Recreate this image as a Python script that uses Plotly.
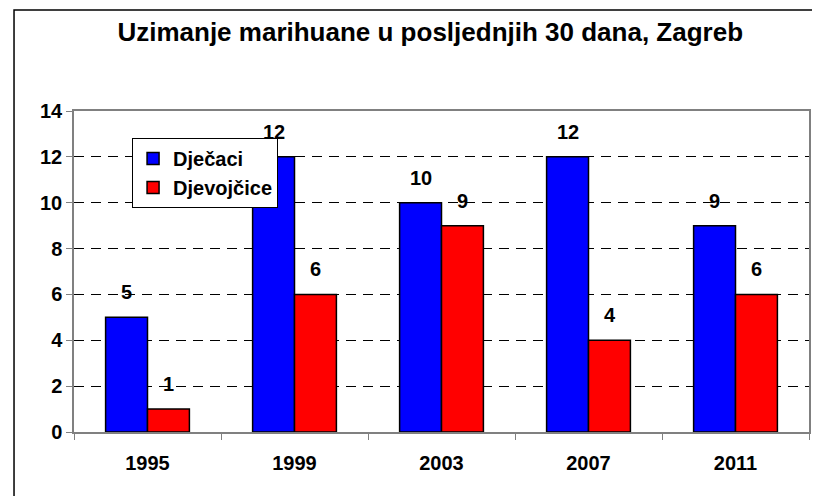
import plotly.graph_objects as go

years = ["1995", "1999", "2003", "2007", "2011"]
djecaci = [5, 12, 10, 12, 9]
djevojcice = [1, 6, 9, 4, 6]

FONT = "Liberation Sans, Arial, sans-serif"

fig = go.Figure()
fig.add_trace(go.Bar(
    x=years, y=djecaci, name="<b>Dječaci</b>", legendgroup="a",
    marker=dict(color="#0000FF", line=dict(color="#000000", width=1.5)),
))
fig.add_trace(go.Bar(
    x=years, y=djevojcice, name="<b>Djevojčice</b>", legendgroup="b",
    marker=dict(color="#FF0000", line=dict(color="#000000", width=1.5)),
))

# value labels above bars (x given as category index)
for series, shift in ((djecaci, -21), (djevojcice, 21)):
    for i, v in enumerate(series):
        fig.add_annotation(
            x=i, y=v, text=f"<b>{v}</b>", showarrow=False,
            xshift=shift, yshift=25,
            font=dict(family=FONT, size=20, color="#000000"),
        )

# outer chart frame (cropped on right and bottom)
fig.add_shape(type="rect", xref="paper", yref="paper",
              x0=-0.0816, x1=1.2, y0=-0.5, y1=1.3146,
              line=dict(color="#000000", width=1.5), layer="below")

# page body has an 8px margin, so the figure is sized to fit the window
fig.update_layout(
    width=812, height=488,
    margin=dict(l=66, r=11, t=103, b=64, autoexpand=False),
    paper_bgcolor="white", plot_bgcolor="white",
    font=dict(family=FONT, size=20, color="#000000"),
    title=dict(text="<b>Uzimanje marihuane u posljednjih 30 dana, Zagreb</b>",
               x=0.52, xanchor="center", y=0.951, yanchor="middle",
               font=dict(family=FONT, size=26, color="#000000")),
    barmode="group", bargap=0.43, bargroupgap=0,
    showlegend=True,
    legend=dict(x=0.079, y=0.916, xanchor="left", yanchor="top",
                bgcolor="white", bordercolor="#000000", borderwidth=1,
                font=dict(family=FONT, size=20, color="#000000"),
                tracegroupgap=12, traceorder="normal"),
)
fig.update_xaxes(
    type="category", range=[-0.5, 4.5], autorange=False, automargin=False,
    showline=True, linecolor="#808080", linewidth=1.5, mirror=True,
    ticks="outside", tickson="boundaries", ticklen=6, tickcolor="#808080",
    ticklabelstandoff=12,
    tickfont=dict(family=FONT, size=20, color="#000000"),
    tickprefix="<b>", ticksuffix="</b>",
)
fig.update_yaxes(
    range=[0, 14], autorange=False, dtick=2, automargin=False,
    showline=True, linecolor="#808080", linewidth=1.5, mirror=True,
    ticks="outside", ticklen=6, tickcolor="#808080",
    showgrid=True, gridcolor="#000000", gridwidth=1, griddash="10px,7px",
    zeroline=False,
    tickfont=dict(family=FONT, size=20, color="#000000"),
    tickprefix="<b>", ticksuffix="</b>",
)

fig.write_html("out.html")
